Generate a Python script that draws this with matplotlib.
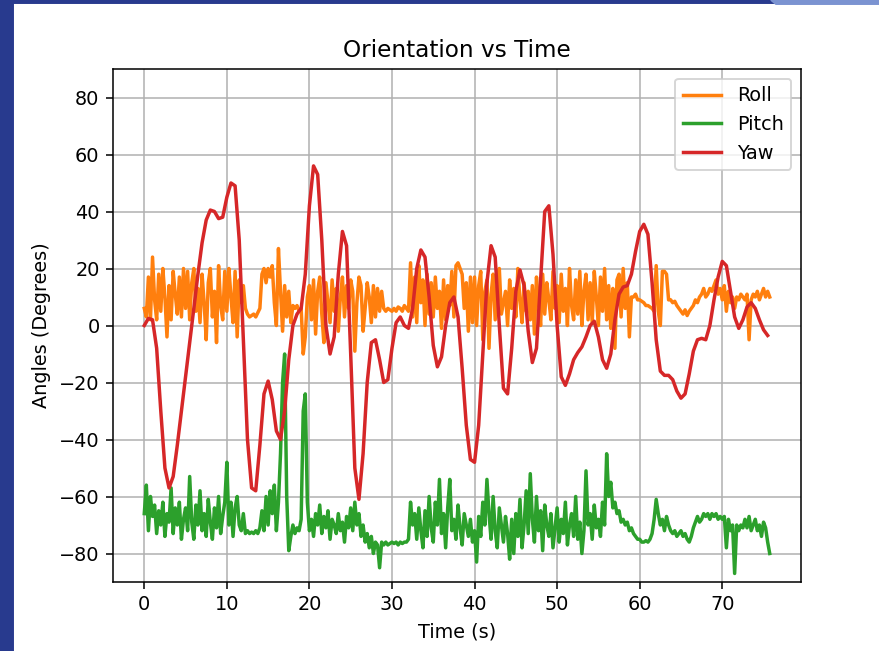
import numpy as np
import matplotlib
matplotlib.use('Agg')
import matplotlib.pyplot as plt
from matplotlib.patches import Rectangle, Polygon

roll = [
    6, 3, 17, 2, 24, 9, 2, 18, 5, 20, 10, -4, 14, 2, 19, 11, 4, 17, 3, 20,
    6, 19, 2, 15, 20, 5, 13, 1, 18, 8, -5, 15, 20, 3, 12, -6, 21, 7, 2, 19,
    5, 20, 10, 1, 19, -4, 16, 8, 14, 6, 4, 3, 3.5, 4, 3, 4.5, 6, 18, 20, 15,
    20, 17, 21, 8, 0, 27, 12, -2, 14, 3, 12, 1, 7, 6, 7, 5, 6, -10, -4, 10,
    14, 2, 16, -3, 12, 17, 4, -6, 15, 8, 1, 16, 5, 13, -2, 10, 17, 3, 14, 6,
    16, 12, -9, 8, 17, 14, -2, 6, 15, 10, 1, 14, 3, 13, 5, 12, 6, 5, 6, 5.5,
    5, 6, 5, 6.5, 6, 5, 7, 6, 5, 22, 3, 17, 1, 21, 8, 16, 0, 18, 4, 15,
    3, 17, 6, 12, -1, 16, 2, 14, 7, 19, 3, 21, 22, 20, 18, 6, 15, -2, 17, 1,
    17, 0, 14, 19, -5, 12, 16, -8, 11, 18, 2, 14, 20, 4, 8, 12, 0, 16, 6, 13,
    3, 20, 9, 1, 15, 5, 12, 2, 14, -3, 17, 8, 0, 18, 4, 15, 9, 2, 19, 6,
    14, 1, 18, 5, 13, 0, 20, 7, 2, 16, 4, 19, 0, 12, 18, 2, 15, 1, 19, 10,
    0, 17, 5, 20, 2, 14, -1, 13, -8, 16, 18, 3, 20, 6, 15, -4, 10, 10, 11, 9,
    9, 8.5, 8, 7, 7, 6.5, 6, 5, 21, 5, 0, 19, 19, 18, 9, 9, 8, 8.5, 7, 6,
    5, 4, 5.5, 3.5, 5, 6, 7, 9, 8, 10, 11, 13, 10, 11, 13, 12, 14, 16, 11, 13,
    9, 14, 5, 12, 8, 10, 6, 10, 9, 11, 10, 9, 11, -5, 9, 11, 10, 12, 9, 11,
    13, 10, 12, 10,
]

pitch = [
    -66, -56, -72, -60, -67, -63, -73, -65, -70, -62, -74, -66, -69, -57, -73, -64, -70, -62, -75, -68,
    -64, -72, -53, -69, -75, -63, -70, -58, -72, -66, -74, -61, -69, -75, -64, -71, -60, -73, -67, -62,
    -48, -70, -62, -74, -64, -60, -70, -72, -66, -73, -72, -73, -72.5, -73, -72, -73, -71, -65, -72, -60,
    -70, -58, -66, -56, -72, -62, -45, -20, -10, -60, -79, -74, -70, -73, -71, -72, -68, -30, -24, -62,
    -72, -68, -74, -66, -70, -63, -73, -67, -71, -65, -75, -68, -70, -73, -66, -72, -69, -76, -67, -71,
    -64, -72, -62, -70, -66, -74, -70, -76, -73, -78, -74, -80, -76, -77, -85, -76, -77, -76, -77, -76.5,
    -76, -76.5, -76, -77, -76, -76.5, -76, -76, -75, -62, -70, -66, -75, -64, -72, -78, -65, -74, -60, -71,
    -76, -62, -70, -54, -73, -66, -78, -64, -54, -72, -68, -75, -63, -71, -77, -66, -70, -74, -68, -76,
    -72, -83, -67, -74, -62, -70, -54, -66, -75, -60, -72, -78, -64, -70, -76, -67, -73, -82, -68, -80,
    -66, -74, -61, -78, -70, -58, -73, -52, -68, -76, -60, -72, -65, -79, -63, -70, -74, -66, -78, -71,
    -64, -76, -68, -73, -62, -77, -70, -66, -74, -60, -75, -69, -80, -72, -51, -70, -66, -75, -63, -71,
    -68, -74, -62, -70, -45, -60, -55, -64, -62, -66, -65, -69, -68, -70, -69, -72, -71, -73, -74, -75,
    -75, -76, -76, -75.5, -76, -75, -73, -68, -61, -66, -70, -68, -72, -67, -70, -72, -73, -72, -74, -73,
    -72, -74, -73, -75, -76, -74, -71, -69, -67, -69, -68, -66, -67, -66, -68, -66, -67, -66, -68, -67,
    -68, -67, -78, -68, -72, -70, -87, -70, -72, -70, -71, -68, -71, -67, -72, -70, -68, -72, -70, -74,
    -69, -71, -76, -80,
]

# yaw every 0.5 s
yaw = [
    0, 2.5, 2, -8, -30, -50, -57, -53, -42, -30,
    -18, -6, 6, 18, 29, 37, 40.5, 40, 37.5, 38,
    45, 50, 49, 30, -5, -40, -57, -58, -42, -24,
    -19.5, -26, -37, -40, -30, -12, 0, 4, 6, 18,
    42, 56, 53, 30, 0, -10, -4, 18, 33, 28,
    -10, -50, -61, -45, -20, -6, -5, -12, -20, -19,
    -8, 1, 3, 0, -1, 6, 20, 26.5, 24, 10,
    -7, -14.5, -11, 0, 8, 10, 3, -15, -35, -47,
    -48, -35, -10, 15, 28, 24, 0, -22, -24, -8,
    12, 19.5, 14, -2, -13, -8, 16, 40, 42, 25,
    0, -18, -21, -17, -12, -9.5, -7.5, -4, 0, 1.5,
    -4, -12, -15, -10, 2, 11, 13.5, 14, 18, 26,
    33, 35.5, 32, 15, -5, -16, -17.5, -17.5, -19, -23,
    -25.5, -24, -17, -9, -5, -4.5, -5, 0, 9, 17,
    22.5, 21, 12, 3, -1, 2, 6.5, 8, 6, 2,
    -1.5, -3.5,
]

t_roll = np.arange(len(roll)) * 0.25
t_pitch = np.arange(len(pitch)) * 0.25
t_yaw = np.arange(len(yaw)) * 0.5

dpi = 138.7
fig = plt.figure(figsize=(879 / dpi, 651 / dpi), dpi=dpi)

# slide background bits
fig.add_artist(Rectangle((0, 0), 12.5 / 879, 1, transform=fig.transFigure, color='#283a8e', zorder=0))
fig.add_artist(Rectangle((0, 1 - 3 / 651), 1, 3 / 651, transform=fig.transFigure, color='#283a8e', zorder=0))
fig.add_artist(Polygon([(771 / 879, 1), (1, 1), (1, 1 - 4 / 651), (776 / 879, 1 - 4 / 651)],
                       transform=fig.transFigure, color='#7b93d1', zorder=1))

ax = fig.add_axes([113 / 879, 69 / 651, 688 / 879, 513 / 651])
ax.plot(t_roll, roll, color='tab:orange', lw=1.8, label='Roll')
ax.plot(t_pitch, pitch, color='tab:green', lw=1.8, label='Pitch')
ax.plot(t_yaw, yaw, color='tab:red', lw=1.8, label='Yaw')
ax.set_ylim(-90, 90)
ax.set_title('Orientation vs Time')
ax.set_xlabel('Time (s)')
ax.set_ylabel('Angles (Degrees)')
ax.grid(True)
ax.legend(loc='upper right')

fig.savefig('out.png', dpi=dpi)
